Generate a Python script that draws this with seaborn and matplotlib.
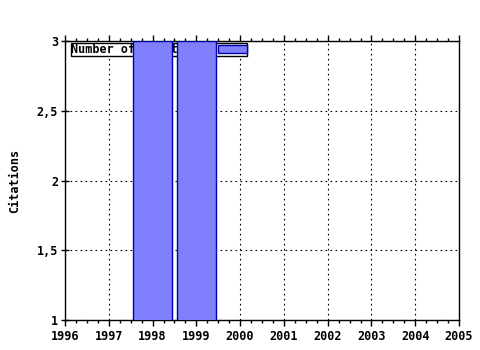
import matplotlib
matplotlib.use("Agg")
import matplotlib.pyplot as plt
import matplotlib.ticker as mticker
import seaborn as sns
import pandas as pd

years = [1998, 1999]
citations = [3, 3]
series_label = "Number of citations"
x_ticks = list(range(1996, 2006))
y_ticks = [1, 1.5, 2, 2.5, 3]

sns.set_theme(style="white")
plt.rcParams['font.family'] = ['DejaVu Sans Mono']
plt.rcParams['font.weight'] = 'bold'
plt.rcParams['text.color'] = 'black'
plt.rcParams['axes.labelcolor'] = 'black'
plt.rcParams['xtick.color'] = 'black'
plt.rcParams['ytick.color'] = 'black'

df = pd.DataFrame({"year": years, "citations": citations})

fig = plt.figure(figsize=(4.8, 3.5), dpi=100)
ax = fig.add_axes([65/480, 1-320/350, (459-65)/480, (320-41)/350])

sns.barplot(data=df, x="year", y="citations", native_scale=True, width=0.9,
            color="#8080ff", saturation=1, edgecolor="#0000a0", linewidth=1.0,
            label=series_label, ax=ax, zorder=3)

ax.set_xlim(1996, 2005)
ax.set_ylim(1, 3)
ax.set_xticks(x_ticks)
ax.set_xticklabels([str(x) for x in x_ticks])
ax.xaxis.set_minor_locator(mticker.MultipleLocator(0.25))
ax.set_yticks(y_ticks)
ax.yaxis.set_major_formatter(mticker.FuncFormatter(lambda v, p: f"{v:g}".replace(".", ",")))

ax.grid(True, which="major", color="black", linestyle=(0, (1.5, 3)), linewidth=0.8, zorder=0)
ax.set_axisbelow(True)

for s in ax.spines.values():
    s.set_color("black")
    s.set_linewidth(1.0)

ax.tick_params(axis="x", which="major", direction="out", length=4, width=1, colors="black",
               top=True, bottom=True, labelsize=8.5, pad=3)
ax.tick_params(axis="x", which="minor", direction="out", length=2.5, width=1, colors="black",
               top=True, bottom=True)
ax.tick_params(axis="y", which="major", direction="inout", length=6, width=1, colors="black",
               left=True, right=False, labelsize=8.5, pad=2)
for lbl in ax.get_xticklabels() + ax.get_yticklabels():
    lbl.set_fontweight("bold")

ax.set_xlabel("")
ax.set_ylabel("Citations", fontsize=8.5, fontweight="bold", labelpad=11)

leg = ax.legend(loc="upper left", bbox_to_anchor=(0.015, 0.993), markerfirst=False,
                frameon=True, fancybox=False, framealpha=1, edgecolor="black",
                prop={"size": 8.5, "weight": "bold"}, handlelength=2.4, handleheight=0.55,
                borderpad=0.02, borderaxespad=0, handletextpad=1.0)
leg.get_frame().set_linewidth(1.0)
leg.set_zorder(2)

fig.savefig("out.png", dpi=100)
